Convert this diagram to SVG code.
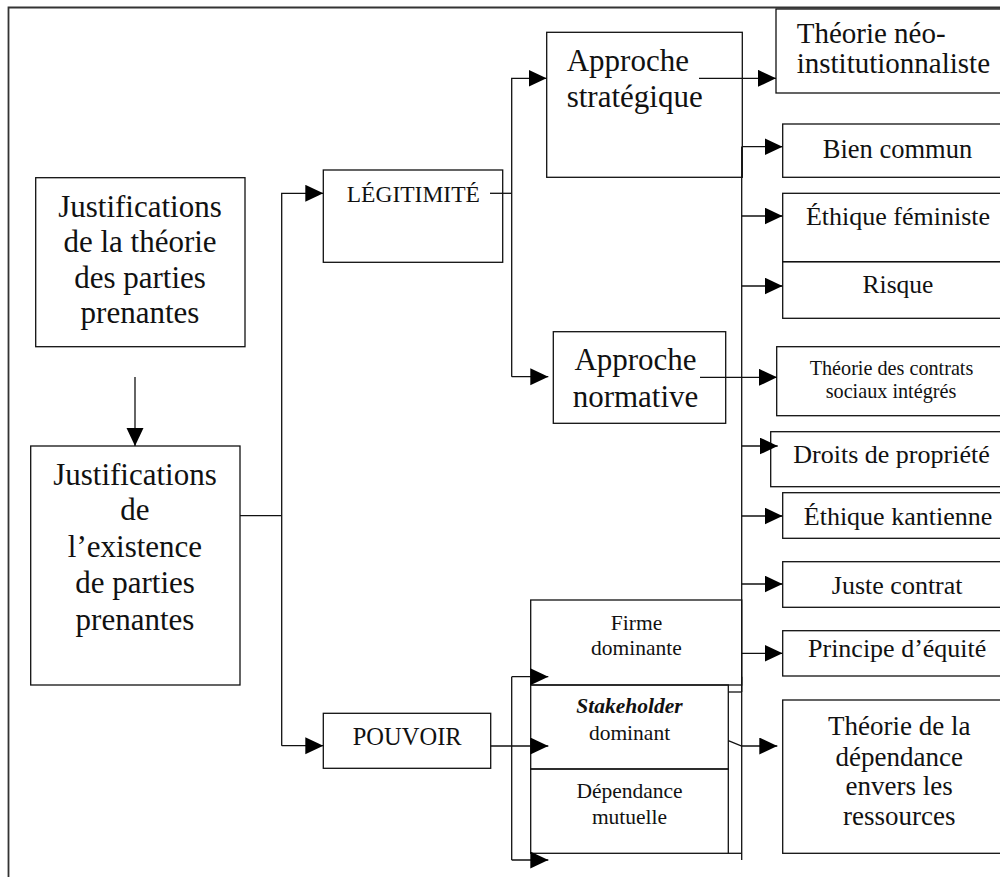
<svg xmlns="http://www.w3.org/2000/svg" width="1000" height="877" viewBox="0 0 1000 877" font-family="'Liberation Serif', 'DejaVu Serif', serif">
<style>
.b{fill:none;stroke:#111;stroke-width:1.3}
.c{fill:none;stroke:#111;stroke-width:1.3}
.f{stroke:#333;stroke-width:1.8;fill:none}
text{font-family:'Liberation Serif','DejaVu Serif',serif;fill:#111}
.m{text-anchor:middle}
</style>
<defs>
<marker id="ah" markerUnits="userSpaceOnUse" markerWidth="19" markerHeight="18" refX="18" refY="8.5" orient="auto">
<path d="M0,0 L18,8.5 L0,17 Z" fill="#000"/>
</marker>
</defs>
<rect width="1000" height="877" fill="#fff"/>
<path class="f" d="M8.5,877 V7.5 H1000"/>

<g id="n-j1"><rect class="b" x="35.7" y="177.7" width="209.3" height="169"/>
<text class="m" font-size="31" x="140" y="216.7">Justifications</text>
<text class="m" font-size="31" x="140" y="251.7">de la théorie</text>
<text class="m" font-size="31" x="140" y="288.3">des parties</text>
<text class="m" font-size="31" x="140" y="323.3">prenantes</text></g>

<g id="n-j2"><rect class="b" x="30.7" y="446" width="209.3" height="239"/>
<text class="m" font-size="31" x="135" y="485">Justifications</text>
<text class="m" font-size="31" x="135" y="520">de</text>
<text class="m" font-size="31" x="135" y="556.7">l’existence</text>
<text class="m" font-size="31" x="135" y="593.3">de parties</text>
<text class="m" font-size="31" x="135" y="630">prenantes</text></g>

<g id="n-legit"><rect class="b" x="323.3" y="170" width="179.4" height="92.3"/>
<text class="m" font-size="23.5" x="413.3" y="201.7">LÉGITIMITÉ</text></g>

<g id="n-pouvoir"><rect class="b" x="323.3" y="713.3" width="167.4" height="55"/>
<text class="m" font-size="24.5" x="407.2" y="745">POUVOIR</text></g>

<g id="n-strat"><rect class="b" x="546.7" y="32.3" width="195.6" height="145"/>
<text font-size="31" x="566.7" y="70.7">Approche</text>
<text font-size="31" x="566.7" y="107">stratégique</text></g>

<g id="n-norm"><rect class="b" x="553.3" y="331.7" width="172.4" height="91.6"/>
<text class="m" font-size="31" x="635.5" y="370">Approche</text>
<text class="m" font-size="31" x="635.5" y="406.7">normative</text></g>

<g id="n-firme"><rect class="b" x="530.7" y="600" width="211" height="85"/>
<text class="m" font-size="21.5" x="636.5" y="630">Firme</text>
<text class="m" font-size="21.5" x="636.5" y="655">dominante</text></g>

<g id="n-stake"><rect class="b" x="530.7" y="685" width="197.6" height="84"/>
<text class="m" font-size="21.5" x="629.5" y="712.7"><tspan font-weight="bold" font-style="italic">Stakeholder</tspan></text>
<text class="m" font-size="21.5" x="629.5" y="740">dominant</text></g>

<g id="n-dep"><rect class="b" x="530.7" y="769" width="197.6" height="84.3"/>
<text class="m" font-size="21.5" x="629.5" y="798.3">Dépendance</text>
<text class="m" font-size="21.5" x="629.5" y="824">mutuelle</text></g>

<g id="n-neo"><rect class="b" x="776" y="9" width="232" height="84"/>
<text font-size="29" x="796.7" y="43.3">Théorie néo-</text>
<text font-size="29" x="796.7" y="72.7">institutionnaliste</text></g>

<g id="n-bien"><rect class="b" x="782.7" y="124" width="225" height="53.3"/>
<text class="m" font-size="26.5" x="897.5" y="158.3">Bien commun</text></g>

<g id="n-ethfem"><rect class="b" x="782.7" y="193.3" width="225" height="68.4"/>
<text class="m" font-size="26" x="898" y="225">Éthique féministe</text></g>

<g id="n-risque"><rect class="b" x="782.7" y="261.7" width="225" height="56.6"/>
<text class="m" font-size="25.5" x="898" y="293">Risque</text></g>

<g id="n-contrats"><rect class="b" x="776.7" y="346.7" width="231" height="69"/>
<text class="m" font-size="20.2" x="891.5" y="375">Théorie des contrats</text>
<text class="m" font-size="20.2" x="891" y="398">sociaux intégrés</text></g>

<g id="n-droits"><rect class="b" x="770.7" y="431.7" width="237" height="55"/>
<text class="m" font-size="26" x="891.5" y="463.3">Droits de propriété</text></g>

<g id="n-kant"><rect class="b" x="782.7" y="492.7" width="225" height="45.6"/>
<text class="m" font-size="26" x="898" y="525">Éthique kantienne</text></g>

<g id="n-juste"><rect class="b" x="782.7" y="561.7" width="225" height="45.6"/>
<text class="m" font-size="26" x="897.2" y="594">Juste contrat</text></g>

<g id="n-principe"><rect class="b" x="782.7" y="630.7" width="225" height="45.3"/>
<text class="m" font-size="26" x="897.2" y="656.7">Principe d’équité</text></g>

<g id="n-theodep"><rect class="b" x="782.7" y="700" width="225" height="153.3"/>
<text class="m" font-size="27" x="899.2" y="734.5">Théorie de la</text>
<text class="m" font-size="27" x="899.2" y="765.5">dépendance</text>
<text class="m" font-size="27" x="899.2" y="795">envers les</text>
<text class="m" font-size="27" x="899.2" y="825">ressources</text></g>

<g id="connectors">
<path class="c" d="M135,377 V446" marker-end="url(#ah)"/>
<path class="c" d="M240,515.7 H281.7"/>
<path class="c" d="M281.7,745.7 V193.3 H323.3" marker-end="url(#ah)"/>
<path class="c" d="M281.7,745.7 H323.3" marker-end="url(#ah)"/>
<path class="c" d="M490,193.3 H511.7"/>
<path class="c" d="M511.7,376.7 V78.3 H546.5" marker-end="url(#ah)"/>
<path class="c" d="M511.7,376.7 H548.3" marker-end="url(#ah)"/>
<path class="c" d="M699,78.3 H776" marker-end="url(#ah)"/>
<path class="c" d="M700,377.3 H777" marker-end="url(#ah)"/>
<path class="c" d="M741.7,146.7 V860"/>
<path class="c" d="M741.7,676.7 V692" stroke-width="2.4"/>
<path class="c" d="M741.7,146.7 H782.5" marker-end="url(#ah)"/>
<path class="c" d="M741.7,216 H782.5" marker-end="url(#ah)"/>
<path class="c" d="M741.7,286 H782.5" marker-end="url(#ah)"/>
<path class="c" d="M741.7,446 H777.7" marker-end="url(#ah)"/>
<path class="c" d="M741.7,516 H782.5" marker-end="url(#ah)"/>
<path class="c" d="M741.7,584 H782.5" marker-end="url(#ah)"/>
<path class="c" d="M741.7,653.3 H782.5" marker-end="url(#ah)"/>
<path class="c" d="M728.3,740.7 L741.7,746 H777.3" marker-end="url(#ah)"/>
<path class="c" d="M728.3,692 H741.7"/>
<path class="c" d="M728.3,853.3 H741.7"/>
<path class="c" d="M490.7,746 H548.3" marker-end="url(#ah)"/>
<path class="c" d="M511.7,676.7 V860"/>
<path class="c" d="M511.7,676.7 H548.3" marker-end="url(#ah)"/>
<path class="c" d="M511.7,860 H548.3" marker-end="url(#ah)"/>
</g>
</svg>
